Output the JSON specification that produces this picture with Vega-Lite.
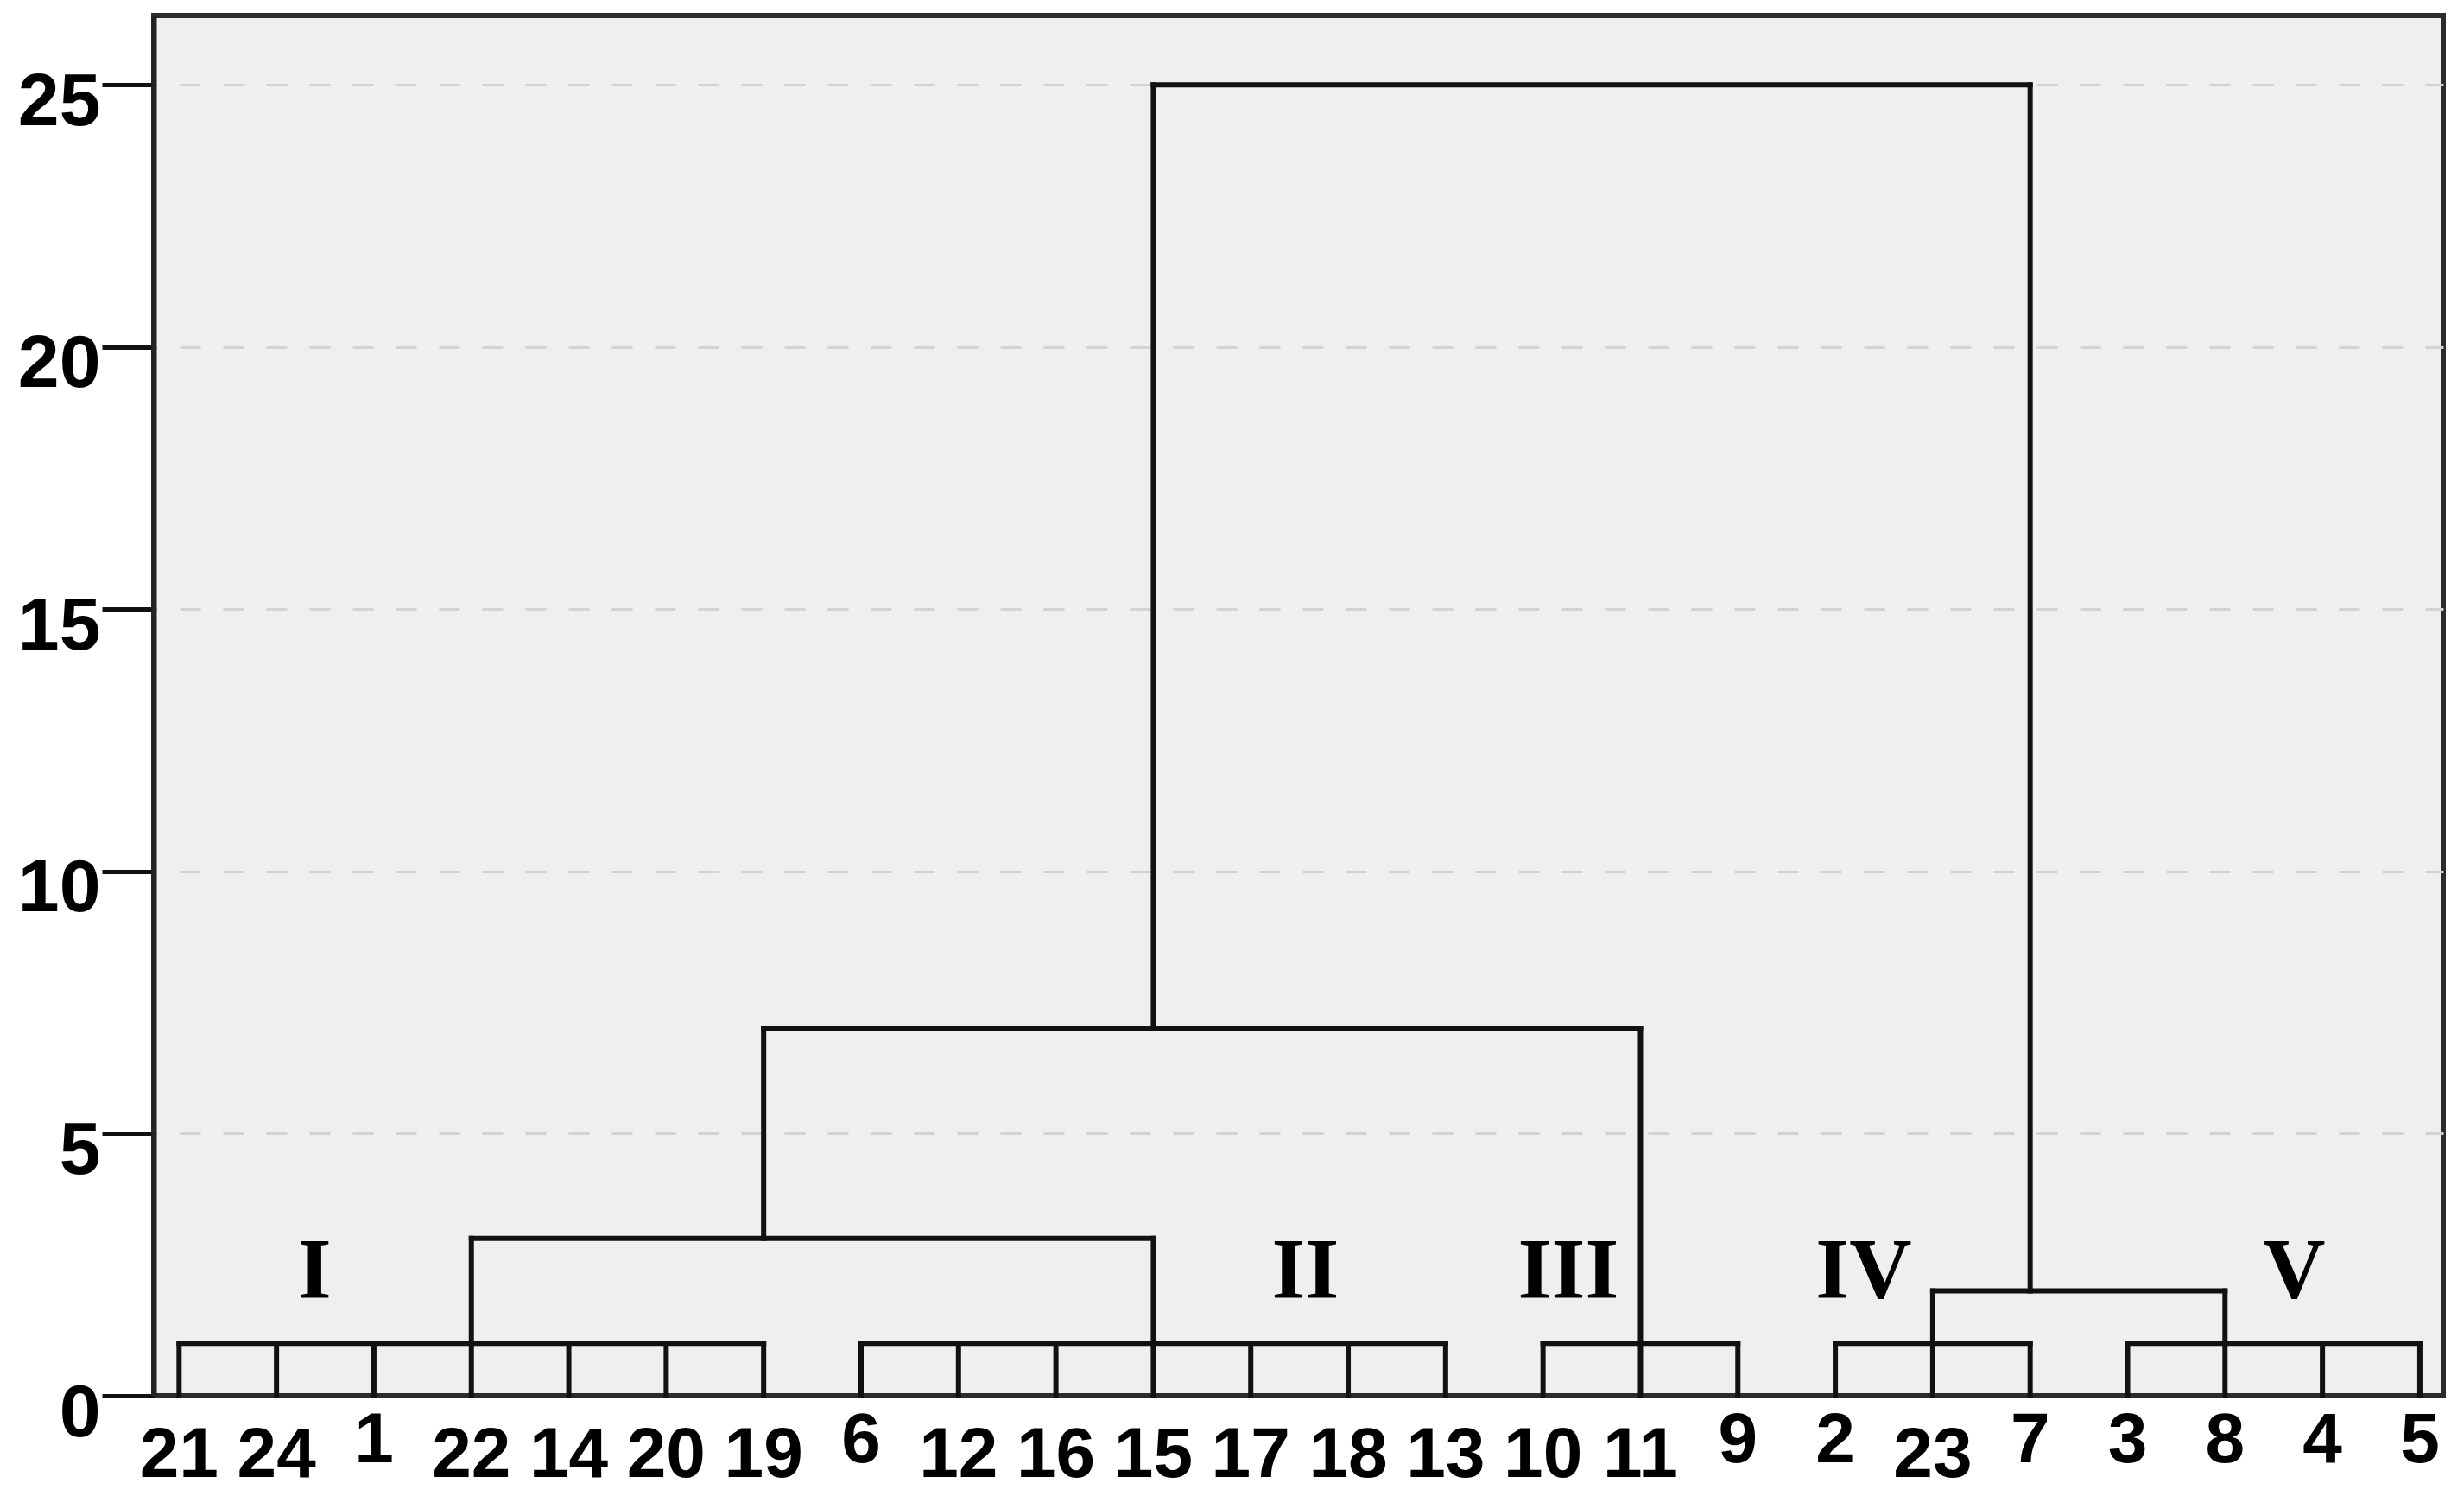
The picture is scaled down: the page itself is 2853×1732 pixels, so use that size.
{
  "$schema": "https://vega.github.io/schema/vega-lite/v6.json",
  "width": 2651,
  "height": 1598,
  "autosize": {"type": "none"},
  "padding": {"left": 178, "top": 18, "right": 24, "bottom": 116},
  "background": "white",
  "view": {"fill": "#efefef", "stroke": "#2b2b2b", "strokeWidth": 6},
  "datasets": {
    "segments": [
      {"x1": 0, "x2": 0, "y1": 0, "y2": 1}, {"x1": 1, "x2": 1, "y1": 0, "y2": 1}, {"x1": 2, "x2": 2, "y1": 0, "y2": 1},
      {"x1": 3, "x2": 3, "y1": 0, "y2": 1}, {"x1": 4, "x2": 4, "y1": 0, "y2": 1}, {"x1": 5, "x2": 5, "y1": 0, "y2": 1},
      {"x1": 6, "x2": 6, "y1": 0, "y2": 1}, {"x1": 7, "x2": 7, "y1": 0, "y2": 1}, {"x1": 8, "x2": 8, "y1": 0, "y2": 1},
      {"x1": 9, "x2": 9, "y1": 0, "y2": 1}, {"x1": 10, "x2": 10, "y1": 0, "y2": 1}, {"x1": 11, "x2": 11, "y1": 0, "y2": 1},
      {"x1": 12, "x2": 12, "y1": 0, "y2": 1}, {"x1": 13, "x2": 13, "y1": 0, "y2": 1}, {"x1": 14, "x2": 14, "y1": 0, "y2": 1},
      {"x1": 15, "x2": 15, "y1": 0, "y2": 1}, {"x1": 16, "x2": 16, "y1": 0, "y2": 1}, {"x1": 17, "x2": 17, "y1": 0, "y2": 1},
      {"x1": 18, "x2": 18, "y1": 0, "y2": 1}, {"x1": 19, "x2": 19, "y1": 0, "y2": 1}, {"x1": 20, "x2": 20, "y1": 0, "y2": 1},
      {"x1": 21, "x2": 21, "y1": 0, "y2": 1}, {"x1": 22, "x2": 22, "y1": 0, "y2": 1}, {"x1": 23, "x2": 23, "y1": 0, "y2": 1},
      {"x1": 0, "x2": 6, "y1": 1, "y2": 1},
      {"x1": 7, "x2": 13, "y1": 1, "y2": 1},
      {"x1": 14, "x2": 16, "y1": 1, "y2": 1},
      {"x1": 17, "x2": 19, "y1": 1, "y2": 1},
      {"x1": 20, "x2": 23, "y1": 1, "y2": 1},
      {"x1": 3, "x2": 3, "y1": 1, "y2": 3},
      {"x1": 10, "x2": 10, "y1": 1, "y2": 3},
      {"x1": 3, "x2": 10, "y1": 3, "y2": 3},
      {"x1": 6, "x2": 6, "y1": 3, "y2": 7},
      {"x1": 15, "x2": 15, "y1": 1, "y2": 7},
      {"x1": 6, "x2": 15, "y1": 7, "y2": 7},
      {"x1": 18, "x2": 18, "y1": 1, "y2": 2},
      {"x1": 21, "x2": 21, "y1": 1, "y2": 2},
      {"x1": 18, "x2": 21, "y1": 2, "y2": 2},
      {"x1": 10, "x2": 10, "y1": 7, "y2": 25},
      {"x1": 19, "x2": 19, "y1": 2, "y2": 25},
      {"x1": 10, "x2": 19, "y1": 25, "y2": 25}
    ],
    "leaves": [
      {"pos": 0, "label": "21"}, {"pos": 1, "label": "24"}, {"pos": 2, "label": "1"}, {"pos": 3, "label": "22"},
      {"pos": 4, "label": "14"}, {"pos": 5, "label": "20"}, {"pos": 6, "label": "19"}, {"pos": 7, "label": "6"},
      {"pos": 8, "label": "12"}, {"pos": 9, "label": "16"}, {"pos": 10, "label": "15"}, {"pos": 11, "label": "17"},
      {"pos": 12, "label": "18"}, {"pos": 13, "label": "13"}, {"pos": 14, "label": "10"}, {"pos": 15, "label": "11"},
      {"pos": 16, "label": "9"}, {"pos": 17, "label": "2"}, {"pos": 18, "label": "23"}, {"pos": 19, "label": "7"},
      {"pos": 20, "label": "3"}, {"pos": 21, "label": "8"}, {"pos": 22, "label": "4"}, {"pos": 23, "label": "5"}
    ],
    "clusters": [
      {"pos": 1.39, "height": 1.88, "label": "I"},
      {"pos": 11.56, "height": 1.88, "label": "II"},
      {"pos": 14.26, "height": 1.88, "label": "III"},
      {"pos": 17.29, "height": 1.88, "label": "IV"},
      {"pos": 21.71, "height": 1.88, "label": "V"}
    ]
  },
  "layer": [
    {
      "data": {"name": "segments"},
      "mark": {"type": "rule", "color": "#111111", "strokeWidth": 6, "strokeCap": "square"},
      "encoding": {
        "x": {"field": "x1", "type": "quantitative", "scale": {"domain": [-0.26, 23.24], "nice": false, "zero": false}, "axis": null},
        "x2": {"field": "x2"},
        "y": {
          "field": "y1", "type": "quantitative",
          "scale": {"domain": [0, 26.32], "nice": false, "zero": false},
          "axis": {
            "title": null,
            "values": [0, 5, 10, 15, 20, 25],
            "format": "d",
            "grid": true,
            "gridColor": "#d2d2d2",
            "gridDash": [24, 26],
            "gridDashOffset": 20,
            "gridWidth": 3,
            "gridOpacity": {"condition": {"test": "datum.value === 0", "value": 0}, "value": 1},
            "tickColor": "#111111",
            "tickWidth": 5,
            "tickSize": 60,
            "domain": true,
            "domainColor": "#222222",
            "domainWidth": 6,
            "labelFont": "Liberation Sans, Arial, sans-serif",
            "labelFontSize": 86,
            "labelFontWeight": "bold",
            "labelColor": "#000000",
            "labelPadding": 2,
            "labelLimit": 0,
            "labelBaseline": "alphabetic",
            "labelOffset": 46,
            "labelFlush": false,
            "labelBound": false,
            "labelOverlap": false
          }
        },
        "y2": {"field": "y2"}
      }
    },
    {
      "data": {"name": "leaves"},
      "transform": [{"filter": "length(datum.label) > 1"}],
      "mark": {"type": "text", "font": "Liberation Sans, Arial, sans-serif", "fontSize": 82, "fontWeight": "bold", "baseline": "alphabetic", "align": "center", "dy": 94, "color": "#000000"},
      "encoding": {
        "x": {"field": "pos", "type": "quantitative"},
        "y": {"datum": 0, "type": "quantitative"},
        "text": {"field": "label"}
      }
    },
    {
      "data": {"name": "leaves"},
      "transform": [{"filter": "length(datum.label) == 1"}],
      "mark": {"type": "text", "font": "Liberation Sans, Arial, sans-serif", "fontSize": 82, "fontWeight": "bold", "baseline": "alphabetic", "align": "center", "dy": 77, "color": "#000000"},
      "encoding": {
        "x": {"field": "pos", "type": "quantitative"},
        "y": {"datum": 0, "type": "quantitative"},
        "text": {"field": "label"}
      }
    },
    {
      "data": {"name": "clusters"},
      "mark": {"type": "text", "font": "Liberation Serif, Times New Roman, serif", "fontSize": 100, "fontWeight": "bold", "baseline": "alphabetic", "align": "center", "color": "#000000"},
      "encoding": {
        "x": {"field": "pos", "type": "quantitative"},
        "y": {"field": "height", "type": "quantitative"},
        "text": {"field": "label"}
      }
    }
  ]
}
